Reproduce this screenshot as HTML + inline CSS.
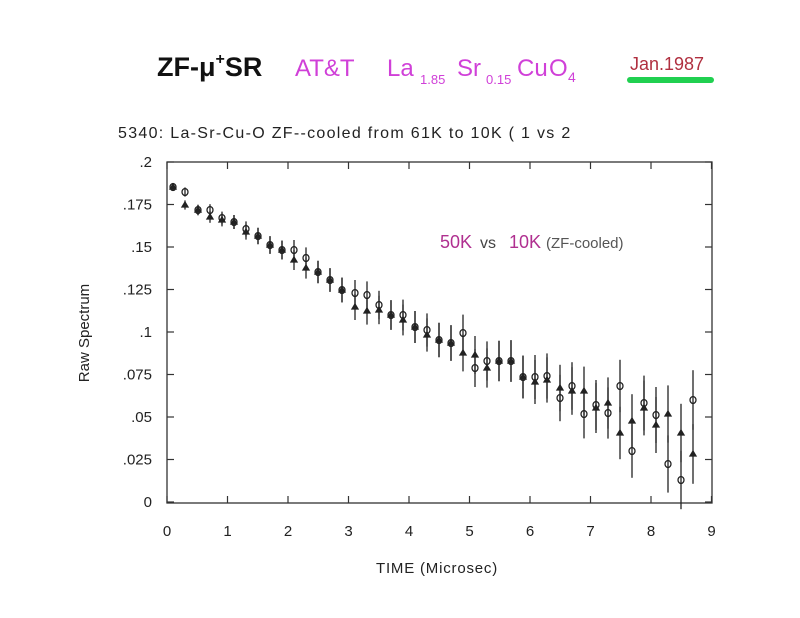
<!DOCTYPE html>
<html><head><meta charset="utf-8"><style>
body{margin:0;background:#fff;}
svg{display:block}
text{font-family:"Liberation Sans",sans-serif}
</style></head><body>
<svg id="s" width="800" height="618" xmlns="http://www.w3.org/2000/svg">
<rect width="800" height="618" fill="#fff"/>
<text x="157" y="76" font-size="27" font-weight="bold" fill="#111" font-family="Liberation Sans">ZF-μ<tspan font-size="16" dy="-12">+</tspan><tspan dy="12">SR</tspan></text>
<g fill="#d040d8" font-size="24">
<text x="295" y="76">AT&amp;T</text>
<text x="387" y="76">La</text><text x="420" y="84" font-size="13">1.85</text>
<text x="457" y="76">Sr</text><text x="486" y="84" font-size="13">0.15</text>
<text x="517" y="76">Cu</text><text x="549" y="76">O</text><text x="568" y="82" font-size="14">4</text>
</g>
<text x="630" y="70" font-size="18" fill="#b03040">Jan.1987</text>
<rect x="627" y="77" width="87" height="6" rx="3" fill="#20d050"/>
<text x="118" y="138" font-size="16" letter-spacing="1.3" fill="#222">5340:  La-Sr-Cu-O ZF--cooled from 61K to 10K ( 1 vs 2</text>
<rect x="167" y="162" width="545" height="341" fill="none" stroke="#333" stroke-width="1.3"/>
<g id="ticks" stroke="#333" stroke-width="1.2"></g>
<g id="lab" font-size="15" fill="#222"></g>
<text transform="translate(89,333) rotate(-90)" font-size="15" text-anchor="middle" fill="#222">Raw Spectrum</text>
<text x="437" y="573" font-size="15" text-anchor="middle" letter-spacing="0.8" fill="#222">TIME (Microsec)</text>
<text x="440" y="248" font-size="18" fill="#b03090">50K</text>
<text x="480" y="248" font-size="16" fill="#444">vs</text>
<text x="509" y="248" font-size="18" fill="#b03090">10K</text>
<text x="546" y="248" font-size="15" fill="#555">(ZF-cooled)</text>
<g id="d" stroke="#222" fill="none" stroke-width="1.3"></g>
</svg>
<script>
var ns="http://www.w3.org/2000/svg";
function el(p,t,a,txt){var e=document.createElementNS(ns,t);for(var k in a)e.setAttribute(k,a[k]);if(txt!=null)e.textContent=txt;document.getElementById(p).appendChild(e);}
for(var i=0;i<=9;i++){var x=167+i*60.5;el("ticks","line",{x1:x,y1:503,x2:x,y2:496});el("ticks","line",{x1:x,y1:162,x2:x,y2:169});
el("lab","text",{x:x,y:536,"text-anchor":"middle"},String(i));}
var yl=["0",".025",".05",".075",".1",".125",".15",".175",".2"];
for(var j=0;j<=8;j++){var y=502-j*42.5;el("ticks","line",{x1:167,y1:y,x2:174,y2:y});el("ticks","line",{x1:712,y1:y,x2:705,y2:y});
el("lab","text",{x:152,y:y+5,"text-anchor":"end"},yl[j]);}
var xs=[173,185,198,210,222,234,246,258,270,282,294,306,318,330,342,355,367,379,391,403,415,427,439,451,463,475,487,499,511,523,535,547,560,572,584,596,608,620,632,644,656,668,681,693];
var c=[187,192,210,210,218,222,229,236,245,250,250,258,272,280,290,293,295,305,315,315,327,330,340,343,333,368,361,361,361,377,377,376,398,386,414,405,413,386,451,403,415,464,480,400];
var t=[187,205,210,217,220,222,232,236,245,250,260,268,272,280,290,307,311,310,315,320,327,335,340,343,353,355,368,361,361,377,382,380,388,391,391,408,403,433,421,408,425,414,433,454];
for(var k=0;k<xs.length;k++){var x=xs[k],e=4+k*0.6;
[c[k],t[k]].forEach(function(y,ii){el("d","line",{x1:x,y1:y-e,x2:x,y2:y+e});});
el("d","ellipse",{cx:x,cy:c[k],rx:3,ry:3.5});
el("d","path",{d:"M"+(x-3)+","+(t[k]+2)+"L"+x+","+(t[k]-3)+"L"+(x+3)+","+(t[k]+2)+"Z",fill:"#222"});}
</script>
</body></html>
